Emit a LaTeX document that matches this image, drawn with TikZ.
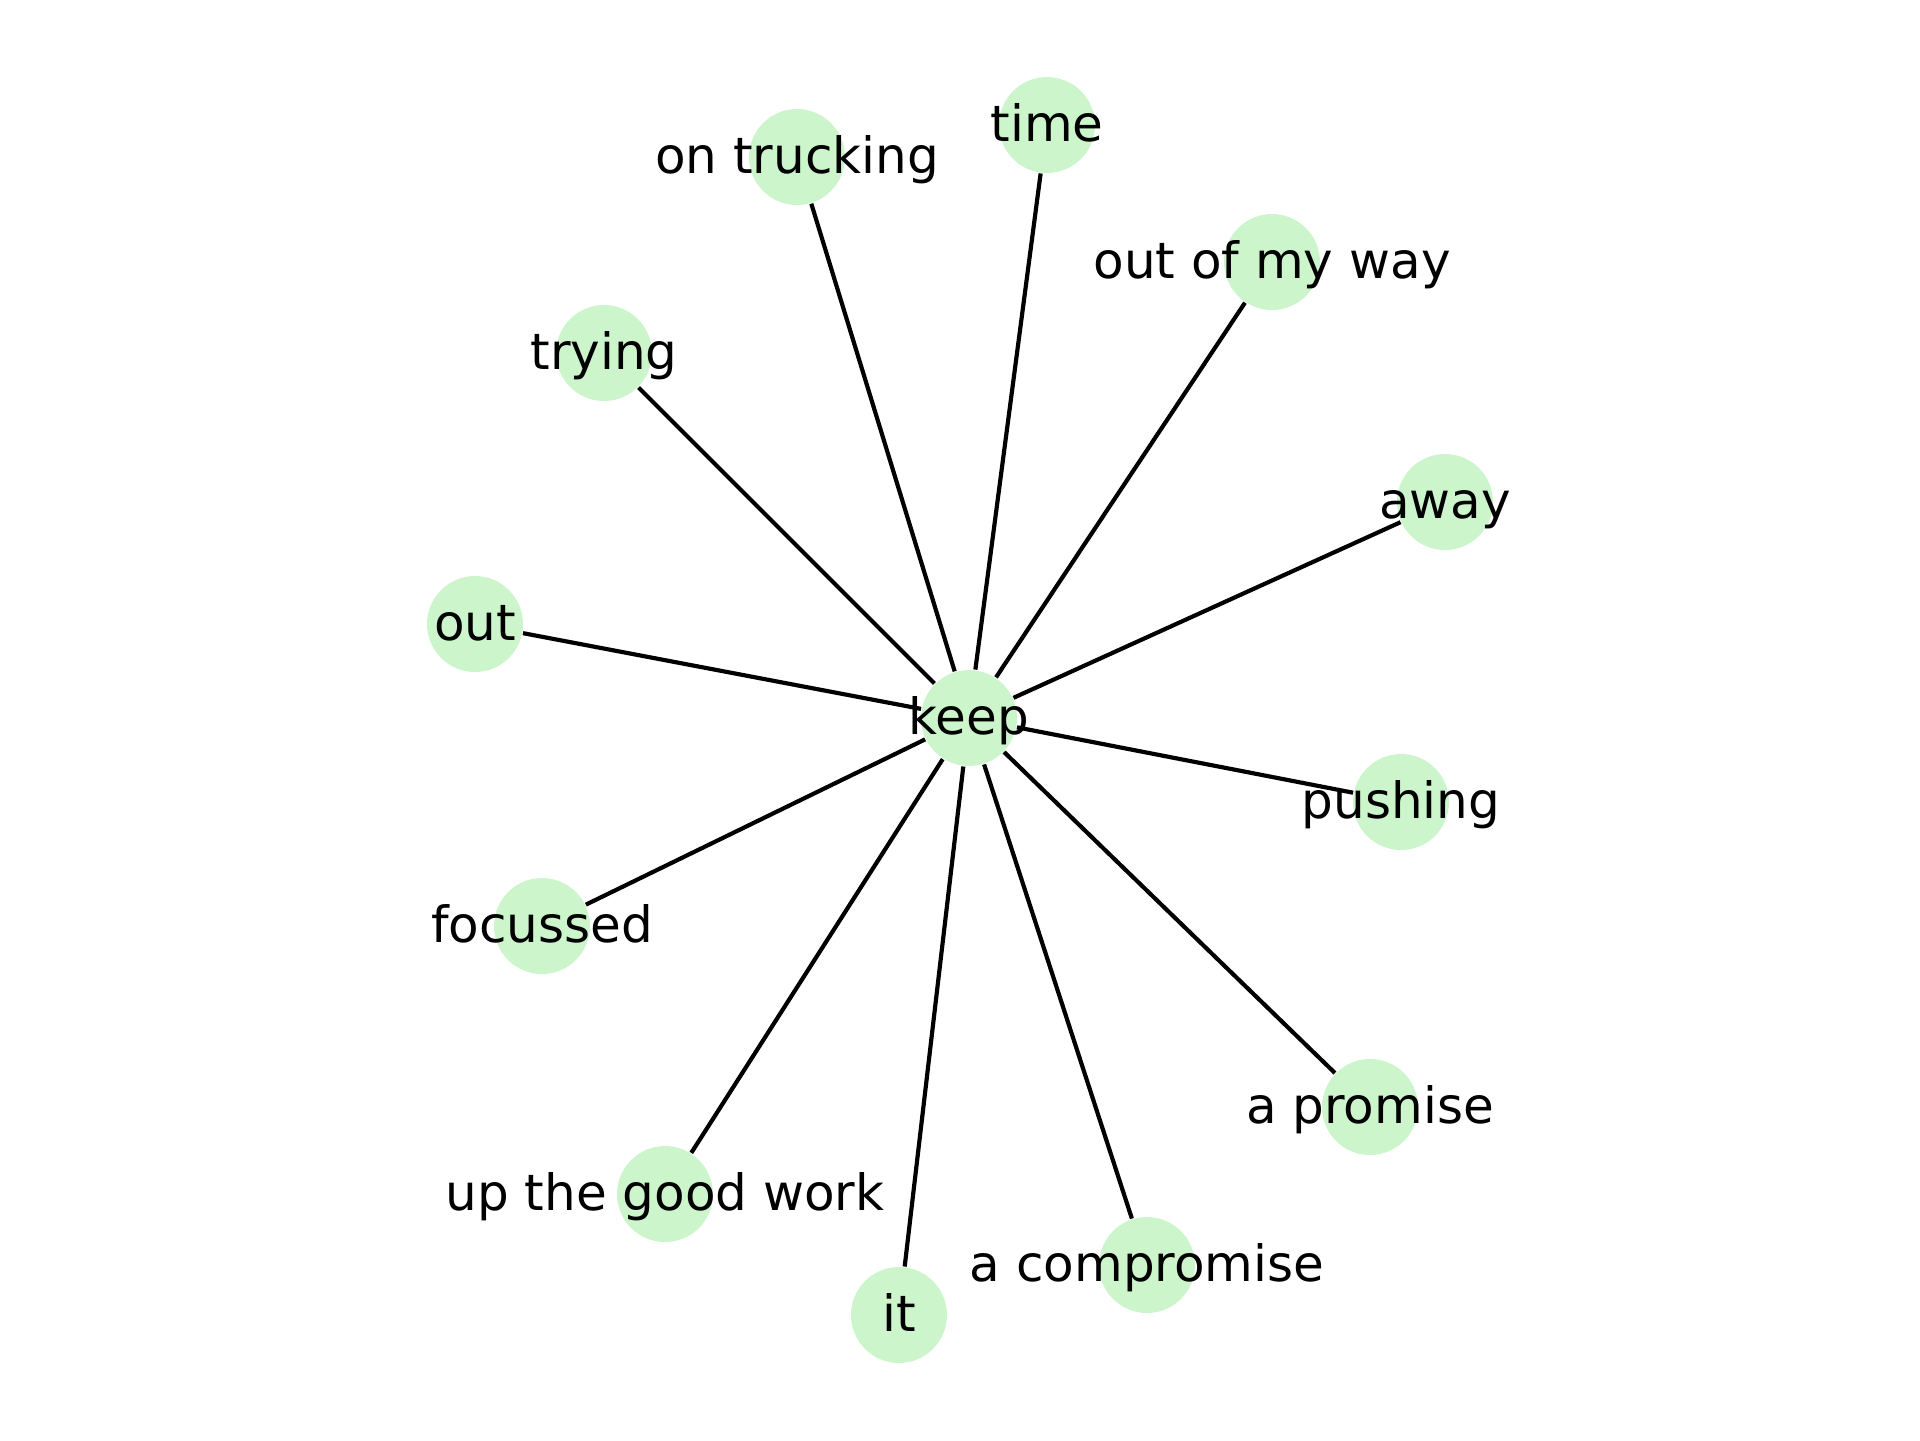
\documentclass[tikz,border=0pt]{standalone}
\usepackage{fontspec}
\setmainfont{DejaVu Sans}
\definecolor{nodegreen}{HTML}{CCF5CC}
\begin{document}
\begin{tikzpicture}[x=0.24pt,y=-0.24pt,
  vertex/.style={circle,fill=nodegreen,minimum size=23.04pt,inner sep=0pt},
  lbl/.style={font=\fontsize{12}{14}\selectfont,text height=9.12pt,text depth=2.88pt,inner sep=0pt,text=black,yshift=-0.75pt},
  edge/.style={line width=1pt,black}]
\useasboundingbox (0,0) rectangle (1920,1440);
% node circles
\node[vertex] (keep) at (969,718) {};
\node[vertex] (time) at (1047,125) {};
\node[vertex] (trucking) at (797,157) {};
\node[vertex] (myway) at (1272,262) {};
\node[vertex] (trying) at (604,353) {};
\node[vertex] (away) at (1445,502) {};
\node[vertex] (out) at (475,624) {};
\node[vertex] (pushing) at (1401,802) {};
\node[vertex] (focussed) at (542,926) {};
\node[vertex] (promise) at (1370,1107) {};
\node[vertex] (goodwork) at (665,1194) {};
\node[vertex] (compromise) at (1147,1265) {};
\node[vertex] (it) at (899,1315) {};
% edges
\foreach \n in {time,trucking,myway,trying,away,out,pushing,focussed,promise,goodwork,compromise,it}
  \draw[edge] (keep) -- (\n);
% labels
\node[lbl] (lkeep) at (keep.center) {keep};
\node[lbl] (ltime) at (time.center) {time};
\node[lbl] (ltrucking) at (trucking.center) {on trucking};
\node[lbl] (lmyway) at (myway.center) {out of my way};
\node[lbl] (ltrying) at (trying.center) {trying};
\node[lbl] (laway) at (away.center) {away};
\node[lbl] (lout) at (out.center) {out};
\node[lbl] (lpushing) at (pushing.center) {pushing};
\node[lbl] (lfocussed) at (focussed.center) {focussed};
\node[lbl] (lpromise) at (promise.center) {a promise};
\node[lbl] (lgoodwork) at (goodwork.center) {up the good work};
\node[lbl] (lcompromise) at (compromise.center) {a compromise};
\node[lbl] (lit) at (it.center) {it};
\end{tikzpicture}
\end{document}
